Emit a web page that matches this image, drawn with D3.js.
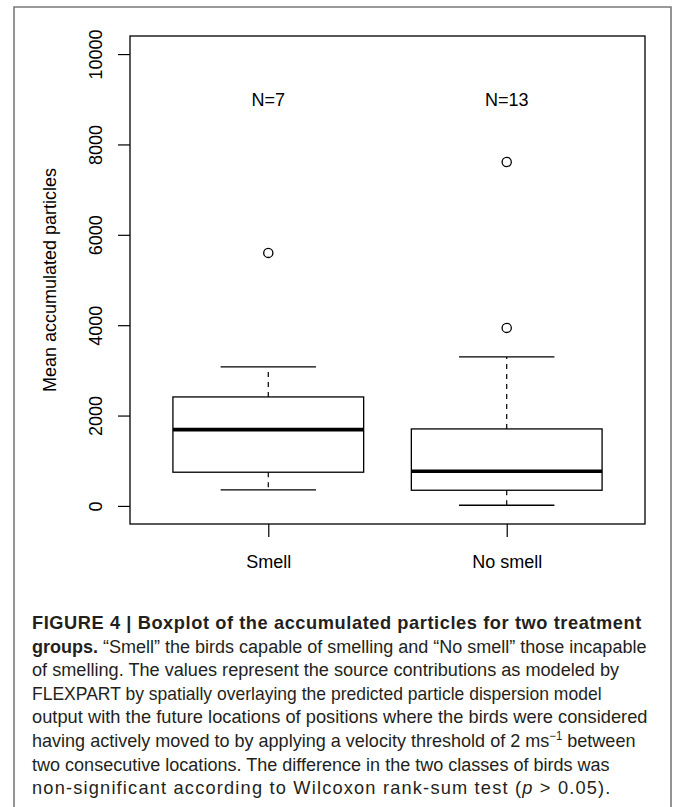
<!DOCTYPE html>
<html>
<head>
<meta charset="utf-8">
<script src="https://cdn.jsdelivr.net/npm/d3@7"></script>
<style>
  body { margin: 0; background: #fff; }
  svg { display: block; font-family: "Liberation Sans", Arial, Helvetica, sans-serif; }
</style>
</head>
<body>
<div id="chart"></div>
<script>
// boxplot stats
var groups = ["Smell", "No smell"];
var counts = [7, 13];
var lowerWhisker = [354, 15];
var q1 = [746, 347];
var medians = [1688, 768];
var q3 = [2412, 1704];
var upperWhisker = [3076, 3297];
var outliers = [[5600], [3940, 7612]];
var yTicks = [0, 2000, 4000, 6000, 8000, 10000];
var yLabel = "Mean accumulated particles";

var captionLines = [
    [{t: "FIGURE 4 | Boxplot of the accumulated particles for two treatment", b: true}],
    [{t: "groups.", b: true}, {t: " \u201CSmell\u201D the birds capable of smelling and \u201CNo smell\u201D those incapable"}],
    [{t: "of smelling. The values represent the source contributions as modeled by"}],
    [{t: "FLEXPART by spatially overlaying the predicted particle dispersion model"}],
    [{t: "output with the future locations of positions where the birds were considered"}],
    [{t: "having actively moved to by applying a velocity threshold of 2 ms"}, {t: "\u22121", sup: true}, {t: " between", after: true}],
    [{t: "two consecutive locations. The difference in the two classes of birds was"}],
    [{t: "non-significant according to Wilcoxon rank-sum test ("}, {t: "p", i: true}, {t: " > 0.05)."}]
];
var captionRight = [643, 647, 620, 602, 648, 636, 610, 612];

var W = 675, H = 807;
var plotL = 130, plotR = 645, plotT = 36, plotB = 524;

var svg = d3.select("#chart")
    .append("svg")
    .attr("width", W)
    .attr("height", H);

svg.append("rect")
    .attr("width", W)
    .attr("height", H)
    .attr("fill", "#fff");

// outer figure frame
svg.append("path")
    .attr("d", "M14," + (H + 2) + "V7H671V" + (H + 2))
    .attr("fill", "none")
    .attr("stroke", "#7a7a7a")
    .attr("stroke-width", 1.6);

var x = d3.scaleLinear()
    .domain([0.42, 2.58])
    .range([plotL, plotR]);

var y = d3.scaleLinear()
    .domain([-400, 10400])
    .range([plotB, plotT]);

// y axis
var yAxis = svg.append("g")
    .attr("transform", "translate(" + plotL + ",0)")
    .call(d3.axisLeft(y).tickValues(yTicks).tickSize(12).tickFormat(d3.format("d")));

yAxis.select(".domain").remove();
yAxis.selectAll("line").attr("stroke", "#000").attr("stroke-width", 1.2);
yAxis.selectAll("text")
    .attr("transform", "rotate(-90)")
    .attr("x", 0)
    .attr("y", -28.5)
    .attr("dy", 0)
    .style("text-anchor", "middle")
    .style("font-size", "18px")
    .style("font-family", "'Liberation Sans', Arial, sans-serif")
    .attr("fill", "#000");

// x axis
var xAxis = svg.append("g")
    .attr("transform", "translate(0," + plotB + ")")
    .call(d3.axisBottom(x).tickValues([1, 2]).tickSize(13).tickFormat(function(d) { return groups[d - 1]; }));

xAxis.select(".domain").remove();
xAxis.selectAll("line").attr("stroke", "#000").attr("stroke-width", 1.2);
xAxis.selectAll("text")
    .attr("y", 44)
    .attr("dy", 0)
    .style("font-size", "18px")
    .style("font-family", "'Liberation Sans', Arial, sans-serif")
    .attr("fill", "#000");

// plot box
svg.append("rect")
    .attr("x", plotL)
    .attr("y", plotT)
    .attr("width", plotR - plotL)
    .attr("height", plotB - plotT)
    .attr("fill", "none")
    .attr("stroke", "#000")
    .attr("stroke-width", 1.3);

svg.append("text")
    .attr("transform", "translate(56," + ((plotT + plotB) / 2) + ") rotate(-90)")
    .attr("text-anchor", "middle")
    .style("font-size", "18px")
    .attr("fill", "#000")
    .text(yLabel);

// boxes
var boxes = svg.selectAll(".box")
    .data(groups)
    .enter()
    .append("g")
    .attr("class", "box");

boxes.each(function(g, i) {
    var sel = d3.select(this);
    var cx = x(i + 1);
    var hw = x(i + 1 + 0.4) - cx;
    var cw = x(i + 1 + 0.2) - cx;

    // whiskers
    sel.append("line")
        .attr("x1", cx).attr("x2", cx)
        .attr("y1", y(q3[i])).attr("y2", y(upperWhisker[i]))
        .attr("stroke", "#000").attr("stroke-width", 1.2)
        .attr("stroke-dasharray", "5,5");
    sel.append("line")
        .attr("x1", cx).attr("x2", cx)
        .attr("y1", y(q1[i])).attr("y2", y(lowerWhisker[i]))
        .attr("stroke", "#000").attr("stroke-width", 1.2)
        .attr("stroke-dasharray", "5,5");

    // caps
    [upperWhisker[i], lowerWhisker[i]].forEach(function(v) {
        sel.append("line")
            .attr("x1", cx - cw).attr("x2", cx + cw)
            .attr("y1", y(v)).attr("y2", y(v))
            .attr("stroke", "#000").attr("stroke-width", 1.3);
    });

    sel.append("rect")
        .attr("x", cx - hw)
        .attr("y", y(q3[i]))
        .attr("width", 2 * hw)
        .attr("height", y(q1[i]) - y(q3[i]))
        .attr("fill", "#fff")
        .attr("stroke", "#000")
        .attr("stroke-width", 1.3);

    sel.append("line")
        .attr("x1", cx - hw).attr("x2", cx + hw)
        .attr("y1", y(medians[i])).attr("y2", y(medians[i]))
        .attr("stroke", "#000").attr("stroke-width", 3.6);

    sel.selectAll("circle")
        .data(outliers[i])
        .enter()
        .append("circle")
        .attr("cx", cx)
        .attr("cy", function(d) { return y(d); })
        .attr("r", 4.6)
        .attr("fill", "none")
        .attr("stroke", "#000")
        .attr("stroke-width", 1.3);

    sel.append("text")
        .attr("x", cx)
        .attr("y", y(9000))
        .attr("dy", 6.5)
        .attr("text-anchor", "middle")
        .style("font-size", "18px")
        .attr("fill", "#000")
        .text("N=" + counts[i]);
});

// caption: slight horizontal squeeze, short lines padded with letter spacing
var capX = 32, capY0 = 629, capStep = 23.6, maxSqueeze = 0.96;
captionLines.forEach(function(line, k) {
    var g = svg.append("g");
    var t = g.append("text")
        .attr("x", 0)
        .attr("y", 0)
        .style("font-size", "19px")
        .attr("fill", "#231f20");
    line.forEach(function(seg) {
        var ts = t.append("tspan").text(seg.t);
        if (seg.b) ts.style("font-weight", "bold");
        if (seg.i) ts.style("font-style", "italic");
        if (seg.sup) ts.attr("dy", -7).style("font-size", "12px");
        if (seg.after) ts.attr("dy", 7);
    });
    var target = captionRight[k] - capX;
    var w = t.node().getBBox().width;
    var sx = Math.min(target / w, maxSqueeze);
    if (w * sx < target) {
        var chars = line.map(function(s) { return s.t; }).join("").length;
        t.style("letter-spacing", ((target / sx - w) / chars) + "px");
    }
    g.attr("transform", "translate(" + capX + "," + (capY0 + k * capStep) + ") scale(" + sx + ",1)");
});
</script>
</body>
</html>
